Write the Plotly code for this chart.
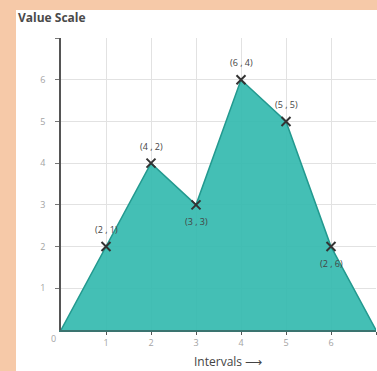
import plotly.graph_objects as go

# chart data
intervals = [0, 1, 2, 3, 4, 5, 6, 7]
values = [0, 2, 4, 3, 6, 5, 2, 0]
point_labels = ["", "(2 , 1)", "(4 , 2)", "(3 , 3)", "(6 , 4)", "(5 , 5)", "(2 , 6)", ""]
label_side = [0, 1, 1, -1, 1, 1, -1, 0]  # 1 above the point, -1 below
tick_vals = [1, 2, 3, 4, 5, 6, 7]
tick_text = ["1", "2", "3", "4", "5", "6", ""]

W, H = 377, 371
PEACH = "#F6C9A8"
EDGE = "#23998F"
INK = "#444444"
TICK_FONT = dict(family="Open Sans", size=9, color="#a4a4a4")

fig = go.Figure()

fig.add_trace(
    go.Scatter(
        x=intervals,
        y=values,
        mode="lines",
        fill="tozeroy",
        fillcolor="rgba(52,186,175,0.92)",
        line=dict(color=EDGE, width=1.5),
        hoverinfo="skip",
        showlegend=False,
    )
)

# the cross markers, only on labelled points
fig.add_trace(
    go.Scatter(
        x=[x for x, t in zip(intervals, point_labels) if t],
        y=[y for y, t in zip(values, point_labels) if t],
        mode="markers",
        marker=dict(symbol="x-thin", size=9, line=dict(color="#333333", width=2)),
        showlegend=False,
    )
)

for x, y, text, side in zip(intervals, values, point_labels, label_side):
    if not text:
        continue
    fig.add_annotation(
        x=x, y=y, text=text, showarrow=False,
        yshift=17 * side,
        font=dict(family="Open Sans", size=9, color=INK),
    )

# white panel on the peach page
fig.add_shape(
    type="rect", xref="paper", yref="paper",
    x0=16 / W, x1=1, y0=0, y1=1 - 10 / H,
    fillcolor="white", line_width=0, layer="below",
)

fig.add_annotation(
    xref="paper", yref="paper", x=16 / W, y=1 - 17 / H,
    xanchor="left", yanchor="middle", showarrow=False,
    text="<b>Value Scale</b>",
    font=dict(family="Open Sans", size=12, color="#4a4a4a"),
)
# origin label sits below-left of the corner
fig.add_annotation(
    xref="x", yref="y", x=0, y=0, xshift=-8, yshift=-8,
    showarrow=False, text="0", font=TICK_FONT,
)
fig.add_annotation(
    xref="paper", yref="paper", x=228 / W, y=0,
    yanchor="bottom", borderpad=0, showarrow=False, text="Intervals \u27f6",
    font=dict(family="Open Sans", size=12, color=INK),
)

fig.update_layout(
    width=W,
    height=H,
    margin=dict(l=0, r=0, t=0, b=0),
    paper_bgcolor=PEACH,
    plot_bgcolor="white",
    xaxis=dict(
        domain=[61 / W, 376 / W],
        range=[0, 7],
        tickvals=tick_vals,
        ticktext=tick_text,
        tickfont=TICK_FONT,
        ticks="outside", ticklen=3, tickcolor="#555555",
        showline=True, linecolor="#3a7470", linewidth=1.5,
        showgrid=True, gridcolor="#e2e2e2", gridwidth=1,
        zeroline=False, fixedrange=True,
    ),
    yaxis=dict(
        domain=[1 - 330 / H, 1 - 38 / H],
        range=[0, 7],
        tickvals=tick_vals,
        ticktext=tick_text,
        tickfont=TICK_FONT,
        ticks="outside", ticklen=4, tickcolor="#777777",
        ticklabelstandoff=8,
        showline=True, linecolor="#555555", linewidth=1.5,
        showgrid=True, gridcolor="#e2e2e2", gridwidth=1,
        zeroline=False, fixedrange=True,
    ),
)

fig.write_html(
    "out.html",
    config={"displayModeBar": False},
    post_script="document.body.style.margin='0';document.body.style.overflow='hidden';",
)
